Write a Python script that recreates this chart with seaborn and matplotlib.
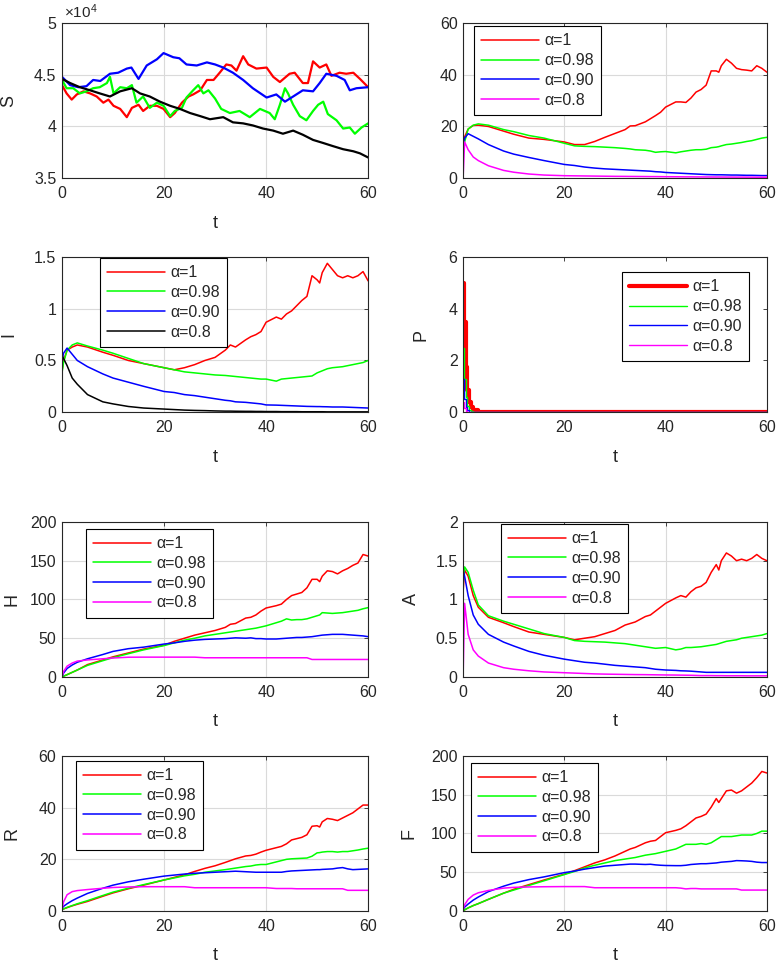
import numpy as np
import pandas as pd
import matplotlib
matplotlib.use("Agg")
import matplotlib.pyplot as plt
from matplotlib.ticker import FuncFormatter
import seaborn as sns

# ---------------- data ----------------
ALPHA_LABELS = ["α=1", "α=0.98", "α=0.90", "α=0.8"]

# S panel, values in units of 1e4, each run has its own sample times
s_red_t = [0, 0.9, 1.9, 2.9, 4.2, 5.5, 6.8, 8.1, 9.1, 10.1, 11.4, 12.7, 13.7, 15, 15.9, 17.2, 18.6, 19.9,
           21.2, 22.1, 23.5, 24.8, 25.7, 27.1, 28.4, 29.7, 30.9, 32.2, 33.2, 34.2, 35.5, 36.5, 38.1, 40.1,
           41.4, 42.7, 44.6, 45.6, 47.2, 48.2, 49.2, 50.5, 51.8, 52.8, 54.4, 55.7, 57.1, 58.4, 60]
s_red = [4.40, 4.32, 4.26, 4.31, 4.34, 4.32, 4.29, 4.23, 4.26, 4.20, 4.17, 4.09, 4.18, 4.21, 4.15, 4.20, 4.20, 4.17,
         4.09, 4.13, 4.23, 4.29, 4.31, 4.35, 4.45, 4.45, 4.52, 4.60, 4.59, 4.54, 4.68, 4.60, 4.56, 4.57,
         4.48, 4.43, 4.51, 4.52, 4.42, 4.42, 4.63, 4.57, 4.60, 4.49, 4.52, 4.51, 4.52, 4.46, 4.38]
s_green_t = [0, 0.9, 2.2, 3.5, 4.8, 6.1, 7.4, 8.8, 9.4, 10.1, 11.4, 12.7, 13.7, 14.6, 15.9, 17.2, 18.6, 19.9,
             21.2, 22.1, 23.5, 24.4, 25.7, 26.7, 27.7, 28.7, 30, 31.2, 32.9, 34.8, 36.8, 38.8, 40.7, 41.7,
             42.7, 43.7, 44.3, 45.3, 46.6, 47.9, 49.2, 50.2, 51.2, 52.1, 53.8, 55.1, 56.4, 57.4, 58.7, 60]
s_green = [4.45, 4.37, 4.37, 4.32, 4.34, 4.37, 4.38, 4.42, 4.48, 4.32, 4.38, 4.37, 4.40, 4.23, 4.29, 4.18, 4.23, 4.20,
           4.10, 4.15, 4.18, 4.28, 4.35, 4.40, 4.32, 4.35, 4.27, 4.17, 4.13, 4.15, 4.09, 4.17, 4.13, 4.07,
           4.21, 4.37, 4.32, 4.21, 4.10, 4.06, 4.15, 4.21, 4.24, 4.12, 4.06, 3.98, 3.99, 3.93, 3.99, 4.03]
s_blue_t = [0, 1.6, 3.2, 4.8, 6.1, 7.5, 9.4, 11, 12.7, 13.6, 15, 16.6, 18.6, 19.9, 21.8, 23, 24.4, 26.4, 28.4,
            30, 31.6, 33.5, 35.5, 37.4, 40.1, 42, 43.7, 45.3, 47.2, 49.2, 50.5, 51.8, 53.8, 55.4, 56.4, 57.7, 60]
s_blue = [4.48, 4.40, 4.38, 4.39, 4.45, 4.44, 4.51, 4.52, 4.56, 4.57, 4.46, 4.59, 4.65, 4.71, 4.67, 4.66, 4.60, 4.59, 4.62,
          4.60, 4.57, 4.52, 4.45, 4.37, 4.28, 4.31, 4.24, 4.29, 4.35, 4.34, 4.42, 4.51, 4.49, 4.45, 4.35, 4.37, 4.38]
s_black_t = [0, 1.6, 3.5, 5.5, 7.4, 9.4, 11.4, 13.7, 15.3, 17.2, 19.2, 21.2, 23.1, 25.1, 27.1, 29, 31.6, 33.5,
             35.5, 37.4, 39.4, 41.4, 43.3, 45.3, 47.2, 49.2, 51.2, 53.1, 55.1, 57.1, 58.4, 60]
s_black = [4.46, 4.42, 4.38, 4.35, 4.32, 4.29, 4.34, 4.37, 4.32, 4.29, 4.24, 4.20, 4.17, 4.13, 4.10, 4.07, 4.09, 4.04,
           4.03, 4.01, 3.98, 3.96, 3.93, 3.96, 3.92, 3.87, 3.84, 3.81, 3.78, 3.76, 3.74, 3.70]

# shared time grid for the other smooth-ish panels
t_grid = [0, 0.3, 1, 2, 3, 5, 8, 10, 13, 16, 20, 22, 24, 26, 28, 30, 32, 33, 34, 36, 37, 38, 39, 40,
          42, 43, 44, 45, 46, 47, 48, 49, 50, 50.5, 51, 52, 53, 54, 55, 56, 57, 58, 59, 60]

# top-right panel (no y label in the original)
e_red = [12.5, 16, 19, 20.4, 20.5, 20, 18.2, 17, 15.5, 15, 14, 13, 13, 14.2, 15.8, 17.3, 18.8, 20.2, 20.3, 21.8,
         23, 24.2, 25.5, 27.5, 29.5, 29.5, 29.3, 31, 33.3, 34.3, 36, 41.5, 41.5, 41, 43.5, 46, 44.5, 42.5, 42,
         41.8, 41.5, 43.5, 42.5, 41]
e_green = [9, 14, 19, 20.5, 21, 20.5, 18.8, 18, 16.5, 15.5, 13.5, 12.5, 12.3, 12.2, 12, 11.8, 11.5, 11.3, 11,
           10.8, 10.5, 10, 10.2, 10.3, 9.8, 10.2, 10.5, 10.8, 11, 11, 11.2, 11.8, 12, 12.2, 12.5, 13, 13.2,
           13.5, 13.8, 14.2, 14.5, 15, 15.5, 15.8]
e_blue = [13, 15.5, 17.2, 16.2, 15.2, 13, 10.5, 9.3, 8, 6.8, 5.3, 4.9, 4.3, 3.9, 3.6, 3.4, 3.2, 3.1, 3.0, 2.8,
          2.7, 2.5, 2.4, 2.2, 2.0, 1.9, 1.8, 1.7, 1.6, 1.5, 1.4, 1.35, 1.3, 1.3, 1.3, 1.25, 1.2, 1.2, 1.15,
          1.1, 1.1, 1.05, 1.0, 1.0]
e_magenta = [0, 14, 11, 8.2, 6.8, 4.8, 3, 2.3, 1.6, 1.2, 0.95, 0.9, 0.85, 0.8, 0.75, 0.7, 0.68, 0.66, 0.65,
             0.62, 0.6, 0.6, 0.58, 0.56, 0.54, 0.52, 0.5, 0.5, 0.48, 0.47, 0.46, 0.45, 0.44, 0.44, 0.43, 0.42,
             0.41, 0.4, 0.4, 0.39, 0.38, 0.37, 0.36, 0.35]

i_red = [0.4, 0.5, 0.6, 0.63, 0.65, 0.63, 0.58, 0.55, 0.5, 0.47, 0.43, 0.41, 0.43, 0.46, 0.5, 0.53, 0.6, 0.65,
         0.63, 0.7, 0.73, 0.75, 0.78, 0.87, 0.92, 0.9, 0.95, 0.98, 1.03, 1.08, 1.12, 1.32, 1.28, 1.25, 1.35,
         1.44, 1.38, 1.32, 1.3, 1.32, 1.3, 1.32, 1.36, 1.27]
i_green = [0.38, 0.48, 0.6, 0.65, 0.67, 0.64, 0.6, 0.57, 0.52, 0.47, 0.43, 0.41, 0.39, 0.38, 0.37, 0.36, 0.355,
           0.35, 0.345, 0.335, 0.33, 0.325, 0.32, 0.32, 0.30, 0.32, 0.325, 0.33, 0.335, 0.34, 0.345, 0.35,
           0.38, 0.39, 0.4, 0.42, 0.43, 0.435, 0.44, 0.45, 0.46, 0.47, 0.48, 0.5]
i_blue = [0.5, 0.57, 0.62, 0.56, 0.5, 0.44, 0.37, 0.33, 0.29, 0.25, 0.2, 0.19, 0.17, 0.16, 0.145, 0.13, 0.115,
          0.11, 0.1, 0.095, 0.09, 0.085, 0.08, 0.07, 0.068, 0.066, 0.064, 0.062, 0.06, 0.058, 0.056, 0.055,
          0.054, 0.054, 0.053, 0.052, 0.05, 0.05, 0.05, 0.048, 0.046, 0.044, 0.042, 0.04]
i_black = [0.55, 0.52, 0.45, 0.33, 0.27, 0.17, 0.1, 0.08, 0.055, 0.04, 0.03, 0.025, 0.02, 0.017, 0.015, 0.012,
           0.01, 0.01, 0.009, 0.008, 0.008, 0.007, 0.007, 0.006, 0.006, 0.005, 0.005, 0.005, 0.005, 0.004,
           0.004, 0.004, 0.004, 0.004, 0.004, 0.003, 0.003, 0.003, 0.003, 0.003, 0.003, 0.003, 0.003, 0.003]

# P panel, coarse time steps near the start
p_t = [0, 0.25, 0.5, 0.8, 1.2, 1.6, 2.0, 3.0, 60]
p_red = [5.0, 3.5, 1.75, 0.85, 0.4, 0.2, 0.08, 0.0, 0.0]
p_green = [2.5, 1.3, 0.6, 0.25, 0.1, 0.04, 0.01, 0.0, 0.0]
p_blue = [1.3, 0.5, 0.2, 0.08, 0.02, 0.0, 0.0, 0.0, 0.0]
p_magenta = [0.4, 0.15, 0.05, 0.01, 0.0, 0.0, 0.0, 0.0, 0.0]

h_red = [0, 1, 3, 6, 9, 16, 22, 26, 31, 36, 41, 46, 50, 54, 57, 60, 64, 68, 69, 76, 77, 80, 85, 89, 92, 94,
         100, 105, 107, 109, 115, 126, 126, 123, 130, 137, 136, 133, 137, 140, 144, 147, 158, 156]
h_green = [0, 1, 3, 6, 9, 15, 21, 25, 30, 35, 40.5, 44, 47.5, 50, 53, 55, 57, 58, 59, 61, 62, 63, 64.5, 66,
           70, 72, 75, 73.5, 74, 74, 75, 77, 79, 80, 83, 82.5, 82, 82.5, 83, 84, 85, 86, 88, 89.5]
h_blue = [0, 5, 11, 15.5, 19, 23.5, 29, 33, 36.5, 38.5, 42.5, 44, 46, 47.5, 48.5, 49, 49.5, 50, 50.5, 50, 50.5,
          49.5, 49.5, 49, 49, 49.5, 50, 50.5, 51, 51, 51.5, 52, 53, 53.5, 54, 54.5, 55, 55, 55, 54.5, 54,
          53.5, 53, 52]
h_magenta = [0, 7, 14, 18, 20.5, 22, 23.5, 24.5, 25.5, 25.6, 25.6, 25.6, 25.6, 25.6, 24.8, 24.8, 24.8, 24.8,
             24.8, 24.8, 24.8, 24.8, 24.8, 24.8, 24.8, 24.8, 24.8, 24.8, 24.8, 24.8, 24.8, 22.6, 22.6, 22.6,
             22.6, 22.6, 22.6, 22.6, 22.6, 22.6, 22.6, 22.6, 22.6, 22.6]

a_red = [1.1, 1.38, 1.3, 1.05, 0.9, 0.77, 0.7, 0.65, 0.58, 0.55, 0.51, 0.48, 0.5, 0.52, 0.56, 0.6, 0.67, 0.69,
         0.71, 0.78, 0.8, 0.85, 0.9, 0.95, 1.02, 1.05, 1.03, 1.1, 1.15, 1.17, 1.22, 1.35, 1.45, 1.38, 1.5,
         1.6, 1.56, 1.5, 1.52, 1.5, 1.53, 1.58, 1.53, 1.5]
a_green = [1.2, 1.42, 1.35, 1.12, 0.93, 0.79, 0.72, 0.68, 0.62, 0.56, 0.51, 0.47, 0.46, 0.455, 0.45, 0.44,
           0.43, 0.42, 0.41, 0.39, 0.38, 0.37, 0.375, 0.38, 0.35, 0.36, 0.38, 0.38, 0.385, 0.39, 0.4, 0.41,
           0.42, 0.43, 0.44, 0.46, 0.47, 0.48, 0.5, 0.51, 0.52, 0.53, 0.54, 0.56]
a_blue = [1.38, 1.3, 1.05, 0.8, 0.68, 0.55, 0.45, 0.4, 0.33, 0.28, 0.23, 0.21, 0.19, 0.18, 0.165, 0.15, 0.14,
          0.135, 0.13, 0.12, 0.11, 0.1, 0.095, 0.09, 0.085, 0.08, 0.078, 0.075, 0.07, 0.065, 0.06, 0.06,
          0.06, 0.06, 0.06, 0.06, 0.06, 0.06, 0.06, 0.06, 0.06, 0.06, 0.06, 0.06]
a_magenta = [0, 0.95, 0.55, 0.35, 0.27, 0.18, 0.12, 0.1, 0.08, 0.065, 0.055, 0.05, 0.045, 0.04, 0.037, 0.035,
             0.033, 0.032, 0.031, 0.03, 0.029, 0.028, 0.027, 0.026, 0.025, 0.024, 0.023, 0.022, 0.02, 0.018,
             0.018, 0.018, 0.017, 0.017, 0.017, 0.016, 0.016, 0.016, 0.016, 0.015, 0.015, 0.015, 0.015, 0.015]

r_red = [0.5, 0.8, 1.3, 2, 2.6, 3.7, 5.7, 7, 8.6, 10, 12, 13, 14, 15.3, 16.5, 17.5, 18.8, 19.5, 20.2, 21.3,
         21.5, 22, 22.8, 23.5, 24.5, 25, 26, 27.5, 28, 28.5, 29.5, 32.8, 33, 32.5, 34.5, 35.8, 35.5, 35, 36,
         37, 38, 39.5, 41, 41]
r_green = [0.5, 0.8, 1.4, 2.1, 2.8, 4, 6, 7.3, 8.8, 10.2, 12, 12.8, 13.6, 14.2, 15, 15.5, 16, 16.3, 16.6,
           17.2, 17.4, 17.8, 18, 18, 19, 19.5, 20, 20.2, 20.3, 20.4, 20.5, 21.2, 22.5, 22.6, 22.8, 23, 23,
           22.8, 23, 23, 23.3, 23.6, 24, 24.3]
r_blue = [1, 1.8, 2.8, 4, 5, 6.8, 8.8, 10, 11.3, 12.3, 13.5, 13.9, 14.3, 14.6, 14.8, 15, 15.2, 15.3, 15.4,
          15.2, 15.1, 15, 15, 15, 15, 15, 15.3, 15.5, 15.6, 15.7, 15.8, 15.9, 16, 16, 16.1, 16.2, 16.3,
          16.6, 16.8, 16.3, 16, 16.1, 16.2, 16.3]
r_magenta = [0.5, 3.5, 6.3, 7.5, 7.9, 8.3, 8.8, 9.1, 9.3, 9.4, 9.4, 9.4, 9.4, 9.0, 9.0, 9.0, 9.0, 9.0, 9.0,
             9.0, 9.0, 9.0, 9.0, 9.0, 8.7, 8.7, 8.7, 8.7, 8.6, 8.6, 8.6, 8.6, 8.6, 8.6, 8.6, 8.6, 8.6, 8.6,
             8.6, 8.0, 8.0, 8.0, 8.0, 8.0]

f_red = [0, 1.5, 4, 7, 9.5, 15, 23, 28, 34, 40, 47.5, 52, 57, 62, 66, 71, 77, 80, 82, 88, 90, 91, 96, 101,
         104, 106, 110, 115, 120, 122, 125, 134, 145, 140, 145, 155, 156, 152, 155, 160, 165, 172, 180, 178]
f_green = [0, 1.5, 4, 7, 9.5, 15, 23, 27, 33, 39, 47, 51, 55.5, 59, 62, 65, 67, 68, 69, 72, 73, 74, 75.5, 77,
           80, 83, 86, 86, 86, 87, 86, 88, 92, 94, 96, 96, 96, 97, 98, 98, 98, 100, 103, 103]
f_blue = [2, 5, 9, 14, 18, 25, 32, 36, 40.5, 44, 49.5, 51.5, 54, 56, 58, 59, 60, 60.5, 60.5, 60, 60.3, 59.5,
          59, 58.7, 58.5, 58.5, 59, 60, 60.5, 61, 61, 61.5, 62, 62.5, 63, 63.5, 64, 65, 64.8, 64.5, 64, 63,
          62.5, 62.5]
f_magenta = [2, 8, 15, 20.5, 23.5, 26.5, 29.5, 30.5, 31, 31.3, 31.5, 31.5, 31.5, 30, 30, 30, 30, 30, 30, 30,
             30, 30, 30, 30, 30, 29.5, 28.5, 29, 29, 28.5, 28.5, 28.5, 28.5, 28.5, 28.5, 28.5, 28.5, 28.5, 27,
             27, 27, 27, 27, 27]

RGBM = ["#ff0000", "#00ff00", "#0000ff", "#ff00ff"]
RGBK = ["#ff0000", "#00ff00", "#0000ff", "#000000"]

# ---------------- style ----------------
sns.set_style("white")
plt.rcParams["font.family"] = ["Liberation Sans", "DejaVu Sans"]
plt.rcParams["mathtext.fontset"] = "custom"
plt.rcParams["mathtext.rm"] = "Liberation Sans"
plt.rcParams["mathtext.it"] = "Liberation Sans:italic"
AX_COLOR = "#262626"

fig = plt.figure(figsize=(7.77, 9.63), dpi=100)

col_left = [0.0798, 0.596]
col_width = [0.394, 0.391]
row_bottom = [0.815, 0.572, 0.297, 0.054]
row_height = 0.161


def make_axes(row, col):
    ax = fig.add_axes([col_left[col], row_bottom[row], col_width[col], row_height])
    return ax


def style_axes(ax, ylim, yticks, grid=True):
    ax.set_xlim(0, 60)
    ax.set_ylim(*ylim)
    ax.set_xticks([0, 20, 40, 60])
    ax.set_yticks(yticks)
    ax.tick_params(direction="in", length=3, width=0.6, top=True, right=True,
                   labelsize=11.5, colors=AX_COLOR, pad=6)
    ax.tick_params(axis="y", pad=4)
    for sp in ax.spines.values():
        sp.set_visible(True)
        sp.set_color(AX_COLOR)
        sp.set_linewidth(0.8)
    if grid:
        ax.grid(True, color="#dadada", linewidth=0.8)
        ax.set_axisbelow(True)
    else:
        ax.grid(False)


def draw_lines(ax, t, series, colors, lw=1.1, lws=None, **kw):
    for k, (y, c) in enumerate(zip(series, colors)):
        width = lws[k] if lws is not None else lw
        sns.lineplot(x=t, y=y, color=c, linewidth=width, ax=ax, estimator=None,
                     sort=False, label=ALPHA_LABELS[k], legend=False, **kw)


def add_legend(ax, loc, anchor):
    leg = ax.legend(handles=ax.lines[:4], labels=ALPHA_LABELS, loc=loc, bbox_to_anchor=anchor,
                    fontsize=11.5, frameon=True, fancybox=False, framealpha=1, edgecolor="black",
                    handlelength=3.6, handletextpad=0.35, labelspacing=0.3, borderpad=0.45,
                    borderaxespad=0.0)
    leg.get_frame().set_linewidth(0.8)


def labels(ax, ylab, ylab_x, xlab=True):
    if ylab:
        ax.set_ylabel(ylab, fontsize=13, color=AX_COLOR)
        ax.yaxis.set_label_coords(ylab_x, 0.5)
    else:
        ax.set_ylabel("")
    if xlab:
        ax.set_xlabel("t", fontsize=13, color=AX_COLOR)
        ax.xaxis.set_label_coords(0.5, -0.235)
    else:
        ax.set_xlabel("")


# S panel
ax = make_axes(0, 0)
for tt, vv, c in [(s_red_t, s_red, RGBK[0]), (s_green_t, s_green, RGBK[1]),
                  (s_blue_t, s_blue, RGBK[2]), (s_black_t, s_black, RGBK[3])]:
    sns.lineplot(x=np.array(tt), y=np.array(vv) * 1e4, color=c, linewidth=1.6, ax=ax,
                 estimator=None, sort=False)
style_axes(ax, (35000, 50000), [35000, 40000, 45000, 50000])
ax.yaxis.set_major_formatter(FuncFormatter(lambda v, _: f"{v / 1e4:g}"))
ax.text(0.005, 1.035, r"$\times10^{4}$", transform=ax.transAxes, fontsize=11,
        color=AX_COLOR, ha="left", va="baseline")
labels(ax, "S", -0.147)

# top-right panel
ax = make_axes(0, 1)
draw_lines(ax, t_grid, [e_red, e_green, e_blue, e_magenta], RGBM)
style_axes(ax, (0, 60), [0, 20, 40, 60])
add_legend(ax, "upper left", (0.036, 0.98))
labels(ax, None, 0, xlab=False)

# I panel
ax = make_axes(1, 0)
draw_lines(ax, t_grid, [i_red, i_green, i_blue, i_black], RGBK)
style_axes(ax, (0, 1.5), [0, 0.5, 1, 1.5])
ax.yaxis.set_major_formatter(FuncFormatter(lambda v, _: f"{v:g}"))
add_legend(ax, "upper left", (0.124, 0.994))
labels(ax, "I", -0.147)

# P panel
ax = make_axes(1, 1)
draw_lines(ax, p_t, [p_red, p_green, p_blue, p_magenta], RGBM, lws=[3.0, 1.0, 1.0, 1.0],
           drawstyle="steps-post")
style_axes(ax, (0, 6), [0, 2, 4, 6], grid=False)
add_legend(ax, "upper right", (0.941, 0.903))
labels(ax, "P", -0.109)

# H panel
ax = make_axes(2, 0)
draw_lines(ax, t_grid, [h_red, h_green, h_blue, h_magenta], RGBM)
style_axes(ax, (0, 200), [0, 50, 100, 150, 200])
add_legend(ax, "upper left", (0.078, 0.955))
labels(ax, "H", -0.135)

# A panel
ax = make_axes(2, 1)
draw_lines(ax, t_grid, [a_red, a_green, a_blue, a_magenta], RGBM)
style_axes(ax, (0, 2), [0, 0.5, 1, 1.5, 2])
ax.yaxis.set_major_formatter(FuncFormatter(lambda v, _: f"{v:g}"))
add_legend(ax, "upper left", (0.125, 0.987))
labels(ax, "A", -0.141)

# R panel
ax = make_axes(3, 0)
draw_lines(ax, t_grid, [r_red, r_green, r_blue, r_magenta], RGBM)
style_axes(ax, (0, 60), [0, 20, 40, 60])
add_legend(ax, "upper left", (0.046, 0.968))
labels(ax, "R", -0.137)

# F panel
ax = make_axes(3, 1)
draw_lines(ax, t_grid, [f_red, f_green, f_blue, f_magenta], RGBM)
style_axes(ax, (0, 200), [0, 50, 100, 150, 200])
add_legend(ax, "upper left", (0.026, 0.955))
labels(ax, "F", -0.151)

fig.savefig("out.png", dpi=100, facecolor="white")
